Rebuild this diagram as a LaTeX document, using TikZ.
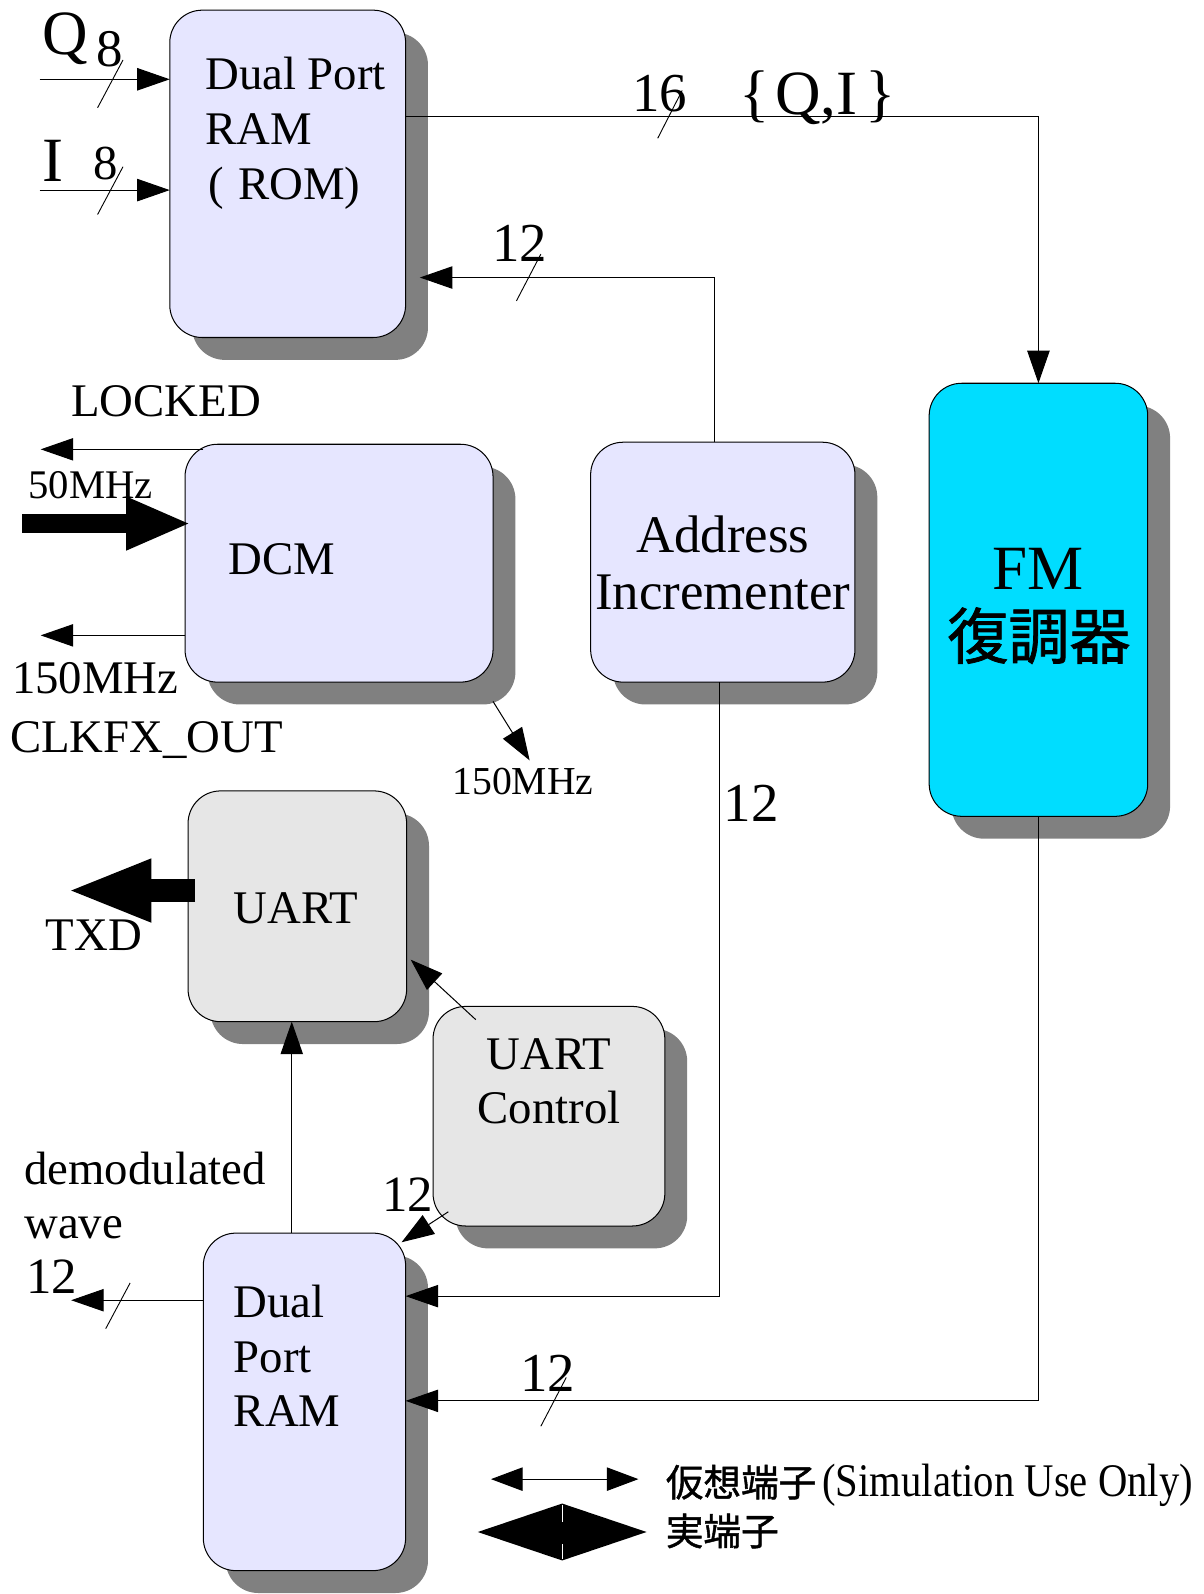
\documentclass[tikz,border=0pt]{standalone}
\usepackage{fontspec}
\setmainfont{Liberation Serif}
\newfontfamily\cjk{Noto Sans CJK JP}[FakeBold=1.2]
\usetikzlibrary{arrows.meta,shadows,calc}
\definecolor{lavender}{RGB}{230,230,255}
\definecolor{boxgray}{RGB}{230,230,230}
\definecolor{fmcyan}{RGB}{0,221,255}
\definecolor{shade}{RGB}{128,128,128}
\newcommand{\fs}[1]{\fontsize{#1}{#1}\selectfont}
\begin{document}
\begin{tikzpicture}[x=1pt,y=-1pt,
  block/.style={draw=black, line width=1pt, rounded corners=32pt, anchor=north west,
    inner sep=0pt, outer sep=0pt,
    drop shadow={shadow xshift=22pt, shadow yshift=-22pt, fill=shade, opacity=1, draw=none}},
  txt/.style={anchor=base west, inner sep=0pt, outer sep=0pt, font=\fs{46}},
  ctxt/.style={anchor=base, inner sep=0pt, outer sep=0pt, font=\fs{46}},
  conn/.style={line width=1pt, draw=black},
  arr/.style={-{Triangle[length=32pt,width=22pt]}},
  slash/.style={line width=0.9pt}
]
\useasboundingbox (0,0) rectangle (1184,1568);

% functional blocks
\node[block, fill=lavender, minimum width=232pt, minimum height=322pt] (ram1) at (167,10) {};
\node[block, fill=lavender, minimum width=303pt, minimum height=234pt] (dcm) at (182,437) {};
\node[block, fill=lavender, minimum width=260pt, minimum height=236pt] (addr) at (581,435) {};
\node[block, fill=fmcyan, minimum width=215pt, minimum height=426pt] (fm) at (914,377) {};
\node[block, fill=boxgray, minimum width=215pt, minimum height=227pt] (uart) at (185,778) {};
\node[block, fill=boxgray, minimum width=228pt, minimum height=216pt] (uctl) at (426,990) {};
\node[block, fill=lavender, minimum width=199pt, minimum height=332pt] (ram2) at (200,1213) {};

% block titles
\node[txt] (ram1a) at (202,88) {Dual Port};
\node[txt] (ram1b) at (202,142) {RAM};
\node[txt] (ram1c) at (202,196) {\hspace{3pt}(\hspace{14pt}ROM)};
\node[txt] (dcmt) at (225,565) {DCM};
\node[ctxt, font=\fs{52}] (addra) at (711,543) {Address};
\node[ctxt, font=\fs{52}] (addrb) at (711,600) {Incrementer};
\node[ctxt, font=\fs{62}] (fma) at (1021,580) {FM};
\node[ctxt, font=\cjk\fs{60}] (fmb) at (1022,648) {復調器};
\node[txt] (uartt) at (230,908) {UART};
\node[ctxt] (uctla) at (540,1052) {UART};
\node[ctxt] (uctlb) at (540,1105) {Control};
\node[txt] (ram2a) at (230,1296) {Dual};
\node[txt] (ram2b) at (230,1350) {Port};
\node[txt] (ram2c) at (230,1403) {RAM};

% Q and I inputs
\coordinate (qin) at (39,78);
\coordinate (iin) at (39,187);
\draw[conn,arr] (qin) -- (qin -| ram1.west);
\draw[conn,arr] (iin) -- (iin -| ram1.west);
\draw[slash] (96,106) -- ++(25,-47);
\draw[slash] (96,211) -- ++(25,-47);
\node[txt, font=\fs{62}] (qlbl) at (42,54) {Q};
\node[txt, font=\fs{52}] (q8) at (95,65) {8};
\node[txt, font=\fs{62}] (ilbl) at (42,179) {I};
\node[txt, font=\fs{48}] (i8) at (92,177) {8};

% {Q,I} bus into the demodulator
\coordinate (qiturn) at (1021.5,115);
\draw[conn,arr] (ram1.east |- qiturn) -- (qiturn) -- (fm.north);
\draw[slash] (647,136) -- ++(24,-47);
\node[txt, font=\fs{54}] (n16) at (622,110) {16};
\node[txt, font=\fs{62}] (qi) at (727,113) {\{\hspace{6pt}Q,I\hspace{8pt}\}};

% address bus back to the sample RAM
\coordinate (adturn) at (703,273);
\draw[conn,arr,shorten >=14pt] (adturn |- addr.north) -- (adturn) -- (adturn -| ram1.east);
\draw[slash] (508,296) -- ++(24,-46);
\node[txt, font=\fs{54}] (n12a) at (484,257) {12};

% address bus to the result RAM
\coordinate (adturn2) at (708,1275);
\draw[conn,arr] (adturn2 |- addr.south) -- (adturn2) -- (adturn2 -| ram2.east);
\node[txt, font=\fs{54}] (n12b) at (712,808) {12};

% demodulated data to the result RAM
\coordinate (fmturn) at (1021.5,1378);
\draw[conn,arr] (fm.south) -- (fmturn) -- (fmturn -| ram2.east);
\draw[slash] (532,1403) -- ++(25,-48);
\node[txt, font=\fs{54}] (n12c) at (512,1369) {12};

% clock manager
\coordinate (lockfrom) at (200,442);
\coordinate (lockto) at (40,442);
\draw[conn,arr] (lockfrom) -- (lockto);
\node[txt] (locked) at (70,410) {LOCKED};
\node[txt, font=\fs{40}] (m50) at (28,490) {50MHz};
\coordinate (clkin) at (22,515);
\draw[line width=18pt, -{Triangle[length=64pt,width=48pt]}, shorten >=-6pt] (clkin) -- (clkin -| dcm.west);
\coordinate (fxto) at (40,625);
\draw[conn,arr] (fxto -| dcm.west) -- (fxto);
\node[txt] (m150a) at (12,682) {150MHz};
\node[txt] (clkfx) at (10,740) {CLKFX\_OUT};
\coordinate (dcmcorner) at (485,690);
\coordinate (clkout) at (521,748);
\draw[conn,arr] (dcmcorner) -- (clkout);
\node[txt, font=\fs{39}] (m150b) at (445,782) {150MHz};

% UART side
\coordinate (txdto) at (65,876);
\draw[line width=22pt, -{Triangle[length=84pt,width=56pt]}, shorten <=-7pt] (txdto -| uart.west) -- (txdto);
\node[txt] (txd) at (45,935) {TXD};
\coordinate (ucfrom) at (468,1003);
\coordinate (ucto) at (404,944);
\draw[conn,arr] (ucfrom) -- (ucto);
\coordinate (upcol) at (287,1006);
\draw[conn,arr] (upcol |- ram2.north) -- (upcol |- uart.south);
\coordinate (ucfrom2) at (441,1192);
\coordinate (ucto2) at (395,1222);
\draw[conn,arr] (ucfrom2) -- (ucto2);
\node[txt, font=\fs{50}] (n12d) at (376,1192) {12};

% demodulated wave output
\node[txt] (demod) at (24,1165) {demodulated};
\node[txt] (wave) at (24,1218) {wave};
\node[txt, font=\fs{50}] (n12e) at (26,1272) {12};
\coordinate (demodto) at (70,1279);
\draw[conn,arr] (demodto -| ram2.west) -- (demodto);
\draw[slash] (104,1307) -- ++(24,-45);

% legend
\coordinate (lga) at (483,1455);
\coordinate (lgb) at (628,1455);
\draw[conn, {Triangle[length=31pt,width=23pt]}-{Triangle[length=31pt,width=23pt]}] (lga) -- (lgb);
\node[txt] (lgt1) at (655,1472) {{\cjk\fs{37}仮想端子}\hspace{6pt}\scalebox{0.87}[1]{(Simulation Use Only)}};
\coordinate (lgc) at (470,1507);
\coordinate (lgd) at (636,1507);
\coordinate (lgm) at (553,1507);
\fill (lgc) -- ($(lgm)+(0,-28)$) -- ($(lgm)+(0,28)$) -- cycle;
\fill (lgd) -- ($(lgm)+(0,-28)$) -- ($(lgm)+(0,28)$) -- cycle;
\draw[white, line width=0.8pt] ($(lgm)+(0,-27)$) -- ($(lgm)+(0,-10)$);
\draw[white, line width=0.8pt] ($(lgm)+(0,12)$) -- ($(lgm)+(0,27)$);
\node[txt, font=\cjk\fs{37}] (lgt2) at (655,1520) {実端子};
\end{tikzpicture}
\end{document}
